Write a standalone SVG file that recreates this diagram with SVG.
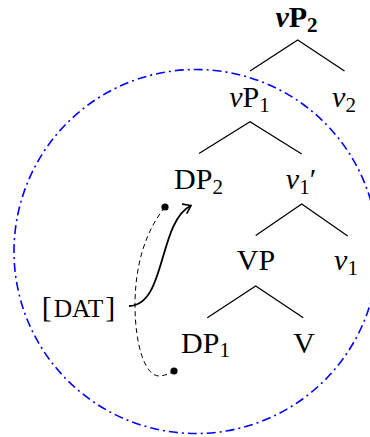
<svg xmlns="http://www.w3.org/2000/svg" width="370" height="437" viewBox="0 0 370 437">
<defs>
<style>
text{font-family:'Liberation Serif','Times New Roman',Times,serif;font-size:30px;fill:#000;text-anchor:middle}
.it{font-style:italic}
.sub{font-size:21px}
.bold{font-weight:bold}
.sc{font-size:25.5px}
.edge{stroke:#000;stroke-width:1.3;fill:none}
.move{stroke:#000;stroke-width:1.8;fill:none}
.trace{stroke:#000;stroke-width:1;fill:none;stroke-dasharray:5 3.5}
.phase{stroke:#0000ff;stroke-width:1.6;fill:none;stroke-dasharray:9 4 2 4}
</style>
<marker id="arr" viewBox="-8 -6 10 12" markerWidth="10" markerHeight="12" refX="0" refY="0" orient="auto" markerUnits="userSpaceOnUse">
<path d="M-7,-5 Q-2.5,-1.8 0,0 Q-2.5,1.8 -7,5" fill="none" stroke="#000" stroke-width="1.6" stroke-linecap="round"/>
</marker>
</defs>
<circle class="phase" cx="196" cy="251.5" r="182"/>
<g id="connectors">
<path class="edge" d="M250,71 L297.7,40 L344.5,71"/>
<path class="edge" d="M199,153.5 L250,121.7 L301.7,154"/>
<path class="edge" d="M255.7,235.5 L301.7,204 L347.7,236"/>
<path class="edge" d="M207.3,317.7 L255.7,286 L303.3,317.7"/>
<path class="move" d="M129,306 C166,306 158,222 191,205.5" marker-end="url(#arr)"/>
<path class="trace" d="M165,207 C140,238 135,278 135,305 C135,345 145,377 160,376 Q168,375 174,371"/>
<circle cx="165" cy="207" r="3.6" fill="#000"/>
<circle cx="174" cy="371" r="3.6" fill="#000"/>
</g>
<g id="vP2"><text class="bold" x="296.5" y="27"><tspan class="it">v</tspan>P<tspan class="sub" dy="4.5">2</tspan></text></g>
<g id="vP1"><text x="249.5" y="107"><tspan class="it">v</tspan>P<tspan class="sub" dy="4.5">1</tspan></text></g>
<g id="v2"><text x="344" y="107"><tspan class="it">v</tspan><tspan class="sub" dy="4.5">2</tspan></text></g>
<g id="DP2"><text x="198.5" y="189">DP<tspan class="sub" dy="4.5">2</tspan></text></g>
<g id="v1bar"><text x="301" y="189"><tspan class="it">v</tspan><tspan class="sub" dy="4.5">1</tspan><tspan dy="-4.5">′</tspan></text></g>
<g id="VP"><text x="256" y="270">VP</text></g>
<g id="v1"><text x="346" y="270"><tspan class="it">v</tspan><tspan class="sub" dy="4.5">1</tspan></text></g>
<g id="DP1"><text x="205.5" y="352.7">DP<tspan class="sub" dy="4.5">1</tspan></text></g>
<g id="V"><text x="304" y="352.7">V</text></g>
<g id="DAT"><text x="78.5" y="317">[<tspan class="sc" dx="2">DAT</tspan><tspan dx="2">]</tspan></text></g>
</svg>
